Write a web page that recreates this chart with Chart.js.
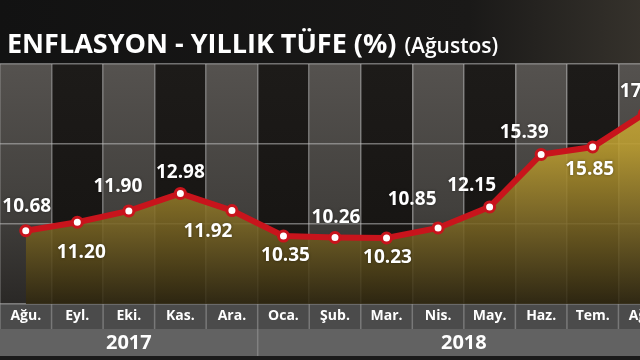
<!DOCTYPE html>
<html>
<head>
<meta charset="utf-8">
<script src="https://cdn.jsdelivr.net/npm/chart.js@4.4.1/dist/chart.umd.min.js"></script>
<style>
  html, body { margin: 0; padding: 0; background: #141414; overflow: hidden; }
  #wrap { position: relative; width: 670px; height: 360px; }
</style>
</head>
<body>
<div id="wrap"><canvas id="tufeChart"></canvas></div>
<script>
// Yıllık TÜFE (%), Ağustos 2017 - Ağustos 2018
const months = ['Ağu.', 'Eyl.', 'Eki.', 'Kas.', 'Ara.', 'Oca.', 'Şub.', 'Mar.', 'Nis.', 'May.', 'Haz.', 'Tem.', 'Ağu.'];
const monthYears = ['2017', '2017', '2017', '2017', '2017', '2018', '2018', '2018', '2018', '2018', '2018', '2018', '2018'];
const tufe = [10.68, 11.20, 11.90, 12.98, 11.92, 10.35, 10.26, 10.23, 10.85, 12.15, 15.39, 15.85, 17.90];

// where each value label sits relative to its point: [dx, dy]
const labelOffsets = [[1, -24], [4, 30], [-11, -24], [0, -21], [-24, 21], [2, 20], [1, -20], [1, 20], [-26, -28], [-18, -21], [-17, -22], [-3, 23], [0, -22]];

const RED = '#c8141c';

const backdrop = {
  id: 'backdrop',
  beforeDraw(chart) {
    const { ctx, chartArea: a, scales: { x } } = chart;
    const W = chart.width, H = chart.height;
    ctx.save();

    // studio background
    const bg = ctx.createLinearGradient(0, 0, W, 0);
    bg.addColorStop(0, '#121212');
    bg.addColorStop(0.7, '#1a1918');
    bg.addColorStop(1, '#3a362f');
    ctx.fillStyle = bg;
    ctx.fillRect(0, 0, W, H);

    // alternating columns
    const step = x.width / months.length;
    months.forEach((m, i) => {
      const cx = x.getPixelForValue(i);
      const g = ctx.createLinearGradient(0, a.top, 0, a.bottom);
      if (i % 2 === 0) {
        g.addColorStop(0, '#55524f');
        g.addColorStop(0.6, '#42403d');
        g.addColorStop(1, '#2a2826');
      } else {
        g.addColorStop(0, '#1d1b19');
        g.addColorStop(1, '#151311');
      }
      ctx.fillStyle = g;
      ctx.fillRect(cx - step / 2, a.top, step, a.bottom - a.top);
    });

    // label bands
    ctx.fillStyle = '#4b4b4b';
    ctx.fillRect(0, a.bottom, W, 25);
    ctx.fillStyle = '#626262';
    ctx.fillRect(0, a.bottom + 25, W, 27);
    ctx.fillStyle = '#1b1b1b';
    ctx.fillRect(0, a.bottom + 52, W, H - a.bottom - 52);

    // title
    ctx.fillStyle = '#ffffff';
    ctx.textBaseline = 'alphabetic';
    ctx.textAlign = 'left';
    ctx.font = 'bold 27px "Open Sans"';
    const main = 'ENFLASYON - YILLIK TÜFE (%)';
    ctx.fillText(main, 7, 53);
    const w = ctx.measureText(main).width;
    ctx.font = '600 21px "Open Sans"';
    ctx.fillText('(Ağustos)', 7 + w + 8, 53);
    ctx.restore();
  },
  afterDatasetsDraw(chart) {
    const { ctx } = chart;
    const pts = chart.getDatasetMeta(0).data;
    ctx.save();
    ctx.fillStyle = '#ffffff';
    ctx.font = 'bold 19px "Open Sans"';
    ctx.textAlign = 'center';
    ctx.textBaseline = 'middle';
    ctx.shadowColor = 'rgba(0,0,0,0.4)';
    ctx.shadowBlur = 3;
    pts.forEach((p, i) => {
      const [dx, dy] = labelOffsets[i];
      ctx.fillText(tufe[i].toFixed(2), p.x + dx, p.y + dy);
    });
    ctx.restore();
  },
  afterDraw(chart) {
    const { ctx, chartArea: a, scales: { x } } = chart;
    const step = x.width / months.length;
    ctx.save();
    ctx.strokeStyle = 'rgba(150,150,150,0.6)';
    ctx.lineWidth = 1.5;
    months.forEach((m, i) => {
      const bx = x.getPixelForValue(i) - step / 2;
      ctx.beginPath();
      ctx.moveTo(bx, a.bottom);
      ctx.lineTo(bx, a.bottom + 25);
      ctx.stroke();
    });

    // years row
    const groups = [];
    monthYears.forEach((y, i) => {
      const last = groups[groups.length - 1];
      if (last && last.year === y) last.to = i;
      else groups.push({ year: y, from: i, to: i });
    });
    ctx.fillStyle = '#ffffff';
    ctx.font = 'bold 20px "Open Sans"';
    ctx.textAlign = 'center';
    ctx.textBaseline = 'middle';
    groups.forEach((g, k) => {
      const left = x.getPixelForValue(g.from) - step / 2;
      const right = x.getPixelForValue(g.to) + step / 2;
      ctx.fillText(g.year, (left + right) / 2, a.bottom + 39);
      if (k > 0) {
        ctx.beginPath();
        ctx.moveTo(left, a.bottom + 25);
        ctx.lineTo(left, a.bottom + 52);
        ctx.stroke();
      }
    });
    ctx.restore();
  }
};

const ctx = document.getElementById('tufeChart').getContext('2d');
const tufeChart = new Chart(ctx, {
  type: 'line',
  data: {
    labels: months,
    datasets: [{
      label: 'Yıllık TÜFE (%)',
      data: tufe,
      borderColor: RED,
      borderWidth: 6,
      tension: 0,
      pointRadius: 5,
      pointBorderWidth: 3,
      pointBackgroundColor: '#ffffff',
      pointBorderColor: RED,
      fill: 'start',
      backgroundColor: function(context) {
        const a = context.chart.chartArea;
        if (!a) return 'rgba(150,125,40,0.85)';
        const g = context.chart.ctx.createLinearGradient(0, a.top, 0, a.bottom);
        g.addColorStop(0, 'rgba(215,180,58,0.9)');
        g.addColorStop(0.35, 'rgba(185,155,48,0.9)');
        g.addColorStop(0.65, 'rgba(125,104,36,0.88)');
        g.addColorStop(1, 'rgba(48,40,17,0.88)');
        return g;
      }
    }]
  },
  options: {
    responsive: true,
    maintainAspectRatio: false,
    animation: false,
    layout: { autoPadding: false, padding: { top: 64, left: 0, right: 0, bottom: 0 } },
    plugins: {
      legend: { display: false },
      tooltip: { enabled: false }
    },
    scales: {
      x: {
        offset: true,
        grid: { offset: true, color: 'rgba(190,190,190,0.55)', lineWidth: 1.5, drawTicks: false },
        border: { display: false },
        ticks: {
          color: '#ffffff',
          font: { family: 'Open Sans', weight: 'bold', size: 14 },
          padding: 4,
          autoSkip: false,
          maxRotation: 0
        },
        afterFit: function(scale) {
          scale.height = 56;
          scale.paddingLeft = 0;
          scale.paddingRight = 0;
        }
      },
      y: {
        min: 6.15,
        max: 20.98,
        grid: { color: 'rgba(190,190,190,0.55)', lineWidth: 1.5, drawTicks: false },
        border: { display: false },
        ticks: { display: false, count: 4 },
        afterFit: function(scale) {
          scale.width = 0;
          scale.paddingTop = 0;
          scale.paddingBottom = 0;
        }
      }
    }
  },
  plugins: [backdrop]
});
</script>
</body>
</html>
